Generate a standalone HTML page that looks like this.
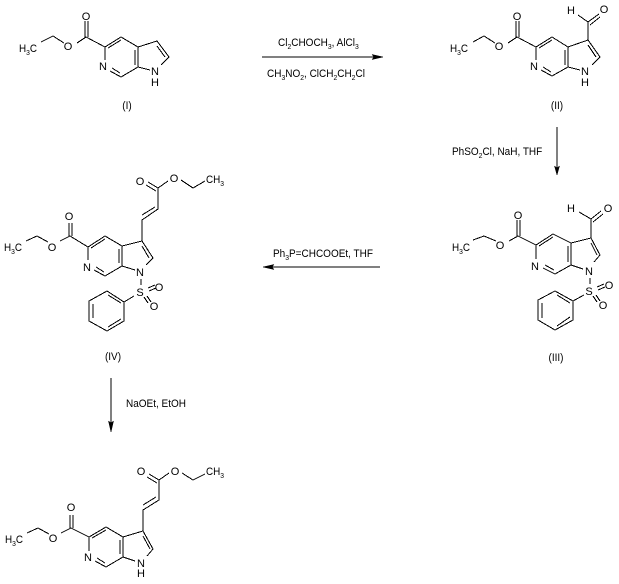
<!DOCTYPE html>
<html>
<head>
<meta charset="utf-8">
<style>
html,body{margin:0;padding:0;background:#fff}
svg{display:block}
text{font-family:"Liberation Sans",sans-serif;font-size:11px;fill:#000}
.a{text-anchor:middle}
.s{font-size:7.5px}
path{fill:none;stroke:#000;stroke-width:1;shape-rendering:crispEdges}
.h{fill:#000;stroke:#000;stroke-width:.5}
</style>
</head>
<body>
<svg width="619" height="584" viewBox="0 0 619 584" xmlns="http://www.w3.org/2000/svg">
<rect width="619" height="584" fill="#fff"/>

<!-- I -->
<path d="M41 42L53 36L64 43M77 43L86 37M85 37V21M88 37V21M86 37L105 47V60M105 47L121 37L138 47V67L121 77L110 71M108 48L121 40M135 50V65M120 73L112 68M138 47L157 41L169 57L161 65M157 46L165 57M138 67L150 70"/>
<text transform="translate(19 52) scale(.9 1)">H<tspan class="s" dy="3">3</tspan><tspan dy="-3">C</tspan></text>
<text class="a" x="68" y="50">O</text>
<text class="a" x="86" y="20">O</text>
<text class="a" x="103" y="70">N</text>
<text class="a" x="155" y="75">N</text>
<text class="a" x="155" y="86">H</text>
<text class="a" transform="translate(127 109) scale(.91 1)">(I)</text>

<!-- II -->
<path d="M473 42L484 36L495 43M508 43L517 37M516 37V21M519 37V21M517 37L536 47V60M536 47L552 37L568 47V67L552 76L541 70M539 48L552 40M565 50V65M551 72L543 67M568 47L588 40L600 57L592 65M588 45L596 57M568 67L580 70M588 40V22M588 22L578 15M588 22L599 14M590 25L600 17"/>
<text transform="translate(450 52) scale(.9 1)">H<tspan class="s" dy="3">3</tspan><tspan dy="-3">C</tspan></text>
<text class="a" x="499" y="50">O</text>
<text class="a" x="517" y="20">O</text>
<text class="a" x="534" y="70">N</text>
<text class="a" x="585" y="75">N</text>
<text class="a" x="585" y="86">H</text>
<text class="a" x="571" y="14">H</text>
<text class="a" x="604" y="13">O</text>
<text class="a" transform="translate(557 109) scale(.91 1)">(II)</text>

<!-- III -->
<path d="M473 240L484 236L496 241M509 241L518 236M517 236V220M520 236V220M518 236L536 245V259M536 245L553 234L571 243V265L555 274L543 268M539 246L553 237M568 246V262M554 270L545 265M571 243L591 238L600 255L594 262M591 243L597 255M571 265L583 269M591 238V219M591 219L579 212M591 219L601 211M593 222L603 214M590 278V284M597 287L604 284M598 290L605 287M593 296L597 302M596 295L600 301M584 295L573 301L555 291L538 300V320L555 330L573 320V301M542 303V318M557 295L570 303M570 317L557 326"/>
<text transform="translate(452 251) scale(.9 1)">H<tspan class="s" dy="3">3</tspan><tspan dy="-3">C</tspan></text>
<text class="a" x="500" y="249">O</text>
<text class="a" x="518" y="219">O</text>
<text class="a" x="535" y="270">N</text>
<text class="a" x="589" y="275">N</text>
<text class="a" x="589" y="295">S</text>
<text class="a" x="609" y="289">O</text>
<text class="a" x="603" y="309">O</text>
<text class="a" x="571" y="212">H</text>
<text class="a" x="608" y="212">O</text>
<text class="a" transform="translate(556 361) scale(.91 1)">(III)</text>

<!-- IV -->
<path d="M26 241L37 236L48 242M60 241L70 236M69 236V223M72 236V223M70 236L88 247V260M88 247L105 236L122 246V266L105 276L94 270M91 248L105 239M119 249V263M104 272L96 267M122 246L142 241L153 258L146 265M142 246L149 258M122 266L135 270M142 241V220L158 209V188M142 215L155 207M158 188L148 182M156 191L146 185M158 188L168 181M181 180L193 188L205 181M141 279V285M148 288L155 285M149 291L156 288M144 297L148 303M147 296L151 302M134 296L124 302L107 291L89 301V321L107 331L124 321V302M93 304V318M108 295L121 303M121 319L108 327"/>
<text transform="translate(4 251) scale(.9 1)">H<tspan class="s" dy="3">3</tspan><tspan dy="-3">C</tspan></text>
<text class="a" x="52" y="251">O</text>
<text class="a" x="69" y="220">O</text>
<text class="a" x="87" y="271">N</text>
<text class="a" x="140" y="276">N</text>
<text class="a" x="140" y="296">S</text>
<text class="a" x="159" y="291">O</text>
<text class="a" x="154" y="310">O</text>
<text class="a" x="140" y="185">O</text>
<text class="a" x="174" y="182">O</text>
<text transform="translate(206 183) scale(.9 1)">CH<tspan class="s" dy="3">3</tspan></text>
<text class="a" transform="translate(113 360) scale(.91 1)">(IV)</text>

<!-- V -->
<path d="M27 533L38 528L49 534M61 533L71 528M70 528V515M73 528V515M71 528L89 537V551M89 537L106 527L123 537V557L106 567L95 561M92 538L106 530M120 540V554M105 563L97 558M123 537L143 531L153 549L147 556M143 536L150 549M123 557L135 561M143 531V510L159 500V480M143 505L156 497M159 480L149 474M157 483L147 477M159 480L169 473M182 473L193 480L205 474"/>
<text transform="translate(5 543) scale(.9 1)">H<tspan class="s" dy="3">3</tspan><tspan dy="-3">C</tspan></text>
<text class="a" x="53" y="542">O</text>
<text class="a" x="71" y="511">O</text>
<text class="a" x="88" y="561">N</text>
<text class="a" x="141" y="567">N</text>
<text class="a" x="141" y="577">H</text>
<text class="a" x="141" y="475">O</text>
<text class="a" x="175" y="475">O</text>
<text transform="translate(206 475) scale(.9 1)">CH<tspan class="s" dy="3">3</tspan></text>

<!-- Arrows -->
<path d="M262 57H376"/>
<polygon class="h" points="383,57 372,54.5 374,57 372,59.5"/>
<path d="M557 127V169"/>
<polygon class="h" points="557,175 554.5,166 557,168 559.5,166"/>
<path d="M380 267H268"/>
<polygon class="h" points="263,267 274,264.5 272,267 274,269.5"/>
<path d="M111 378V426"/>
<polygon class="h" points="111,432 108.5,421 111,423 113.5,421"/>

<!-- Reagents -->
<text transform="translate(278 46) scale(.91 1)">Cl<tspan class="s" dy="3">2</tspan><tspan dy="-3">CHOCH</tspan><tspan class="s" dy="3">3</tspan><tspan dy="-3">, AlCl</tspan><tspan class="s" dy="3">3</tspan></text>
<text transform="translate(267 77) scale(.91 1)">CH<tspan class="s" dy="3">3</tspan><tspan dy="-3">NO</tspan><tspan class="s" dy="3">2</tspan><tspan dy="-3">, ClCH</tspan><tspan class="s" dy="3">2</tspan><tspan dy="-3">CH</tspan><tspan class="s" dy="3">2</tspan><tspan dy="-3">Cl</tspan></text>
<text transform="translate(452 155) scale(.91 1)">PhSO<tspan class="s" dy="3">2</tspan><tspan dy="-3">Cl, NaH, THF</tspan></text>
<text transform="translate(273 257) scale(.91 1)">Ph<tspan class="s" dy="3">3</tspan><tspan dy="-3">P=CHCOOEt, THF</tspan></text>
<text transform="translate(126 407) scale(.91 1)">NaOEt, EtOH</text>
</svg>
</body>
</html>
